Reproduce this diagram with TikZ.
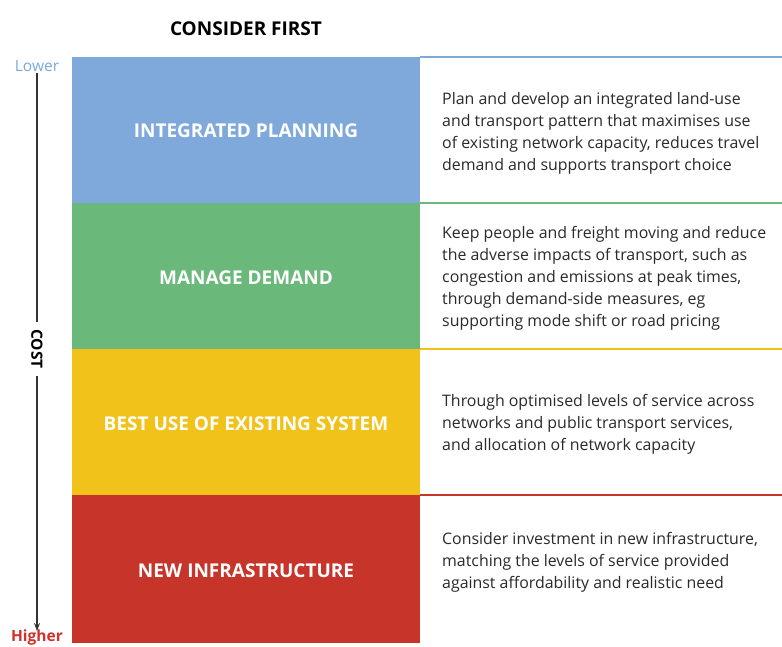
\documentclass[tikz,border=0pt]{standalone}
\usepackage{fontspec}
\setmainfont{Open Sans}
\usetikzlibrary{arrows.meta}
\definecolor{cblue}{HTML}{7EA9DA}
\definecolor{cgreen}{HTML}{6BB97A}
\definecolor{cyellow}{HTML}{F1C31A}
\definecolor{cred}{HTML}{C7342A}
\definecolor{ctext}{HTML}{2A2A2A}
\definecolor{clower}{HTML}{7EA9DA}
\definecolor{chigher}{HTML}{D0312A}
\tikzset{
  band/.style={inner sep=0pt, minimum width=348pt, minimum height=146pt, anchor=north west},
  bandlabel/.style={text=white, font=\fontsize{19}{22}\selectfont\bfseries},
  desc/.style={anchor=west, align=left, text=ctext, inner sep=0pt, font=\fontsize{15.9}{22}\selectfont},
  sep/.style={line width=2pt},
  axis/.style={line width=1.2pt, black!80}
}
\begin{document}
\begin{tikzpicture}[x=1pt,y=-1pt]
\useasboundingbox[fill=white] (0,0) rectangle (782,646);
% bands
\node[band, fill=cblue] (b1) at (72,57) {};
\node[band, fill=cgreen] (b2) at (72,203) {};
\node[band, fill=cyellow] (b3) at (72,349) {};
\node[band, fill=cred, minimum height=148pt] (b4) at (72,495) {};
% separators on the right
\coordinate (e1) at (782,57);
\coordinate (e2) at (782,203);
\coordinate (e3) at (782,349);
\coordinate (e4) at (782,495);
\draw[sep, cblue] (b1.north east) -- (e1);
\draw[sep, cgreen] (b2.north east) -- (e2);
\draw[sep, cyellow] (b3.north east) -- (e3);
\draw[sep, cred] (b4.north east) -- (e4);
% band labels
\node[bandlabel] (l1) at (246,131) {INTEGRATED PLANNING};
\node[bandlabel] (l2) at (246,278) {MANAGE DEMAND};
\node[bandlabel] (l3) at (246,424) {BEST USE OF EXISTING SYSTEM};
\node[bandlabel] (l4) at (246,571) {NEW INFRASTRUCTURE};
% descriptions
\node[desc] (d1) at (442,133) {Plan and develop an integrated land-use\\and transport pattern that maximises use\\of existing network capacity, reduces travel\\demand and supports transport choice};
\node[desc] (d2) at (442,278) {Keep people and freight moving and reduce\\the adverse impacts of transport, such as\\congestion and emissions at peak times,\\through demand-side measures, eg\\supporting mode shift or road pricing};
\node[desc] (d3) at (442,424) {Through optimised levels of service across\\networks and public transport services,\\and allocation of network capacity};
\node[desc] (d4) at (442,562) {Consider investment in new infrastructure,\\matching the levels of service provided\\against affordability and realistic need};
% title
\node[font=\fontsize{19}{22}\selectfont\bfseries, text=black] (title) at (246,29) {CONSIDER FIRST};
% cost axis
\node[text=clower, font=\fontsize{15.5}{17}\selectfont, inner sep=1pt] (lower) at (37,66) {Lower};
\node[text=chigher, font=\fontsize{15.5}{17}\selectfont\bfseries, inner sep=1pt] (higher) at (37,637) {Higher};
\node[rotate=-90, font=\fontsize{15.5}{17}\selectfont\bfseries, inner sep=7pt] (cost) at (37,349) {COST};
\draw[axis] (lower.south) -- (cost.west);
\draw[axis, -{Stealth[length=8pt,width=6pt]}] (cost.east) -- ([yshift=-3pt]higher.north);
\end{tikzpicture}
\end{document}
